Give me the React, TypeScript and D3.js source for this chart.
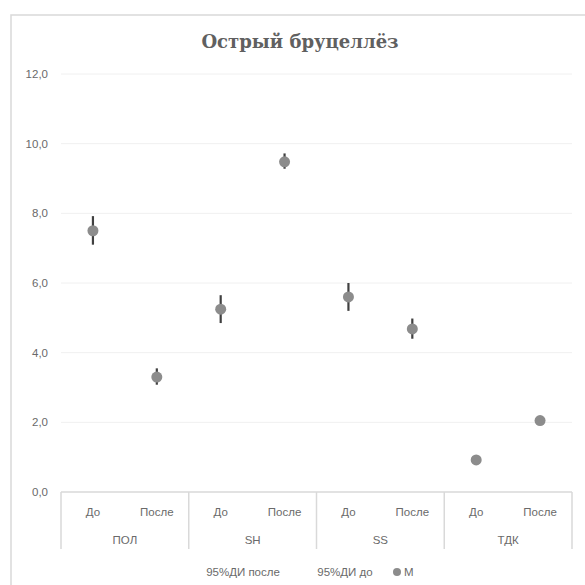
import * as d3 from "d3";

const groups = ["ПОЛ", "SH", "SS", "ТДК"];
const phases = ["До", "После"];
// M values, in order ПОЛ-До, ПОЛ-После, SH-До, ...
const means = [7.5, 3.3, 5.25, 9.48, 5.6, 4.68, 0.92, 2.05];
const ciLow = [7.1, 3.08, 4.85, 9.28, 5.2, 4.4, 0.85, 1.95];
const ciHigh = [7.92, 3.55, 5.65, 9.72, 6.0, 4.98, 1.0, 2.15];
const yTicks = [0, 2, 4, 6, 8, 10, 12];
const legendItems = ["95%ДИ после", "95%ДИ до", "M"];

const W = 585;
const H = 585;
const margin = { top: 74, right: 13, bottom: 93, left: 61 };

const keys = groups.flatMap((g) => phases.map((p) => `${g}|${p}`));

const x = d3.scaleBand().domain(keys).range([margin.left, W - margin.right]);
const xGroup = d3.scaleBand().domain(groups).range([margin.left, W - margin.right]);
const y = d3.scaleLinear().domain([0, 12]).range([H - margin.bottom, margin.top]);
const fmt = (v: number) => v.toFixed(1).replace(".", ",");

const axisFont = "'Liberation Sans', Arial, sans-serif";
const textColor = "#6a6a6a";
const lineColor = "#d9d9d9";

export default function App() {
  const y0 = y(0);
  return (
    <svg
      width={W}
      height={H}
      style={{ position: "absolute", left: 0, top: 0, background: "#fff" }}
    >
      {/* chart border */}
      <rect x={11} y={15} width={W + 20} height={H + 20} fill="#fff" stroke={lineColor} strokeWidth={1.5} />

      <text
        x={300}
        y={48}
        textAnchor="middle"
        fontFamily="'DejaVu Serif', serif"
        fontWeight="bold"
        fontSize={18}
        fill="#606060"
      >
        Острый бруцеллёз
      </text>

      {/* gridlines & y labels */}
      {yTicks.map((t) => (
        <g key={t}>
          {t > 0 && (
            <line x1={margin.left} x2={W - margin.right} y1={y(t)} y2={y(t)} stroke="#f0f0f0" strokeWidth={1} />
          )}
          <text x={48} y={y(t)} dy="0.35em" textAnchor="end" fontFamily={axisFont} fontSize={11.5} fill={textColor}>
            {fmt(t)}
          </text>
        </g>
      ))}

      {/* category axis */}
      <line x1={margin.left} x2={W - margin.right} y1={y0} y2={y0} stroke={lineColor} strokeWidth={1.5} />
      {groups.concat([""]).map((g, i) => {
        const gx = i < groups.length ? xGroup(g)! : W - margin.right;
        return <line key={"sep" + i} x1={gx} x2={gx} y1={y0} y2={y0 + 57} stroke={lineColor} strokeWidth={1.5} />;
      })}
      {keys.map((k) => {
        const p = k.split("|")[1];
        return (
          <text
            key={"l" + k}
            x={x(k)! + x.bandwidth() / 2}
            y={y0 + 20}
            dy="0.35em"
            textAnchor="middle"
            fontFamily={axisFont}
            fontSize={11.5}
            fill={textColor}
          >
            {p}
          </text>
        );
      })}
      {groups.map((g) => (
        <text
          key={"g" + g}
          x={xGroup(g)! + xGroup.bandwidth() / 2}
          y={y0 + 48}
          dy="0.35em"
          textAnchor="middle"
          fontFamily={axisFont}
          fontSize={11.5}
          fill={textColor}
        >
          {g}
        </text>
      ))}

      {/* error bars */}
      {keys.map((k, i) => {
        const cx = x(k)! + x.bandwidth() / 2;
        return (
          <line key={"e" + k} x1={cx} x2={cx} y1={y(ciLow[i])} y2={y(ciHigh[i])} stroke="#404040" strokeWidth={2.2} />
        );
      })}

      {/* markers */}
      {keys.map((k, i) => (
        <circle key={"m" + k} cx={x(k)! + x.bandwidth() / 2} cy={y(means[i])} r={5.5} fill="#8c8c8c" />
      ))}

      {/* legend */}
      <g fontFamily={axisFont} fontSize={11.5} fill={textColor}>
        <text x={243} y={572} dy="0.35em" textAnchor="middle">{legendItems[0]}</text>
        <text x={345} y={572} dy="0.35em" textAnchor="middle">{legendItems[1]}</text>
        <circle cx={397} cy={572} r={4} fill="#8c8c8c" />
        <text x={404} y={572} dy="0.35em">{legendItems[2]}</text>
      </g>
    </svg>
  );
}
